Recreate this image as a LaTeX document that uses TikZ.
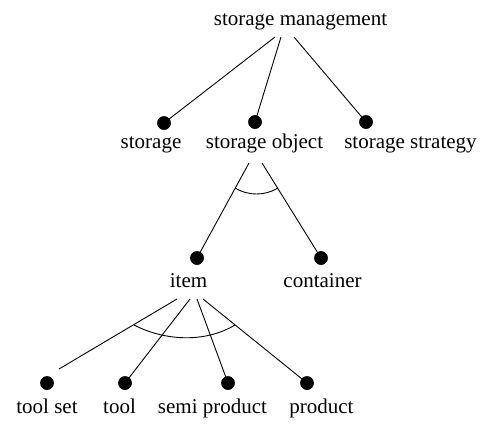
\documentclass[tikz,border=0pt]{standalone}
\usepackage{fontspec}
\setmainfont{Liberation Serif}
\begin{document}
\begin{tikzpicture}[x=1pt,y=-1pt,
  dot/.style={circle,fill=black,inner sep=0pt,minimum size=13.5pt},
  lbl/.style={anchor=base,inner sep=0pt,font=\fontsize{21}{25}\selectfont},
  link/.style={line width=0.9pt}]
\useasboundingbox (0,0) rectangle (493,424);

% labels
\node[lbl] (mgmt)     at (300.5,25)  {storage management};
\node[lbl] (storlbl)  at (151,148)   {storage};
\node[lbl] (objlbl)   at (264.5,148) {storage object};
\node[lbl] (stratlbl) at (410.5,148) {storage strategy};
\node[lbl] (itemlbl)  at (188.5,287) {item};
\node[lbl] (contlbl)  at (322.5,287) {container};
\node[lbl] (setlbl)   at (47,413)    {tool set};
\node[lbl] (toollbl)  at (119.5,413) {tool};
\node[lbl] (semilbl)  at (212.5,413) {semi product};
\node[lbl] (prodlbl)  at (321.5,413) {product};

% dots
\node[dot] (stor)  at (164,123) {};
\node[dot] (obj)   at (255,122) {};
\node[dot] (strat) at (366,122) {};
\node[dot] (item)  at (197,258) {};
\node[dot] (cont)  at (321,258) {};
\node[dot] (set)   at (47,383)  {};
\node[dot] (tool)  at (125,383) {};
\node[dot] (semi)  at (228,383) {};
\node[dot] (prod)  at (307,383) {};

% line start points under the labels
\coordinate (m1) at (275,37);
\coordinate (m2) at (281,37);
\coordinate (m3) at (294,37);
\coordinate (o1) at (249,163);
\coordinate (o2) at (262,163);
\coordinate (i1) at (177,299);
\coordinate (i2) at (190,299);
\coordinate (i3) at (197,299);
\coordinate (i4) at (203,299);
\coordinate (setend) at (59,369);

% connectors
\draw[link] (m1) -- (stor.center);
\draw[link] (m2) -- (obj.center);
\draw[link] (m3) -- (strat.center);
\draw[link] (o1) -- (item.center);
\draw[link] (o2) -- (cont.center);
\draw[link] (i1) -- (setend);
\draw[link] (i2) -- (tool.center);
\draw[link] (i3) -- (semi.center);
\draw[link] (i4) -- (prod.center);

% redraw dots on top
\foreach \n in {stor,obj,strat,item,cont,set,tool,semi,prod}
  \fill (\n.center) circle (6.75pt);

% arcs grouping the alternatives
\coordinate (a1) at (235,188);
\coordinate (a2) at (278,188);
\draw[link] (a1) .. controls (248,196) and (265,196) .. (a2);
\coordinate (b1) at (134,325);
\coordinate (b2) at (235,325);
\draw[link] (b1) .. controls (165,341) and (205,343) .. (b2);
\end{tikzpicture}
\end{document}
